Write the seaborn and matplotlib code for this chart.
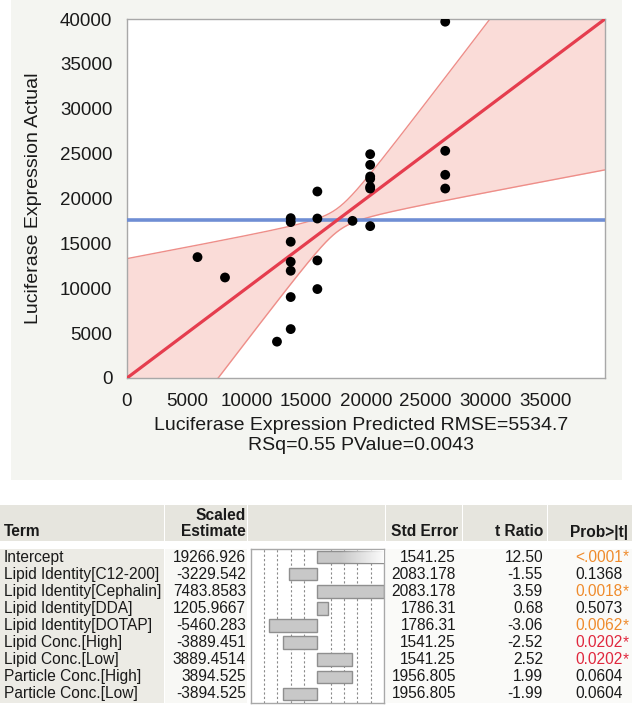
import numpy as np
import pandas as pd
import seaborn as sns
import matplotlib.pyplot as plt
from matplotlib.patches import Rectangle

# ---- Actual by Predicted leverage plot ----
predicted = [5900, 8200, 12550,
             13700, 13700, 13700, 13700, 13700, 13700, 13700,
             15930, 15930, 15930, 15930,
             18870,
             20350, 20350, 20350, 20350, 20350, 20350, 20350,
             26630, 26630, 26630, 26630]
actual = [13470, 11200, 4050,
          5450, 9020, 11950, 12950, 15180, 17370, 17810,
          9910, 13100, 17770, 20780,
          17510,
          16920, 21110, 21300, 22200, 22450, 23750, 24940,
          21110, 22640, 25310, 39700]

band_halfwidth_mid = 1290   # half width of the confidence curves at the mean
band_slope = 0.75           # asymptotic slope of the confidence curves

x_ticks = list(range(0, 40001, 5000))
x_ticklabels = [str(v) for v in range(0, 35001, 5000)] + [""]
y_ticks = list(range(0, 40001, 5000))

# ---- parameter estimates table ----
terms = ["Intercept", "Lipid Identity[C12-200]", "Lipid Identity[Cephalin]",
         "Lipid Identity[DDA]", "Lipid Identity[DOTAP]", "Lipid Conc.[High]",
         "Lipid Conc.[Low]", "Particle Conc.[High]", "Particle Conc.[Low]"]
scaled_est = [19266.926, -3229.542, 7483.8583, 1205.9667, -5460.283,
              -3889.451, 3889.4514, 3894.525, -3894.525]
est_labels = ["19266.926", "-3229.542", "7483.8583", "1205.9667", "-5460.283",
              "-3889.451", "3889.4514", "3894.525", "-3894.525"]
std_err = ["1541.25", "2083.178", "2083.178", "1786.31", "1786.31",
           "1541.25", "1541.25", "1956.805", "1956.805"]
t_ratio = ["12.50", "-1.55", "3.59", "0.68", "-3.06", "-2.52", "2.52", "1.99", "-1.99"]
p_labels = ["<.0001", "0.1368", "0.0018", "0.5073", "0.0062", "0.0202", "0.0202", "0.0604", "0.0604"]
p_values = [0.0001, 0.1368, 0.0018, 0.5073, 0.0062, 0.0202, 0.0202, 0.0604, 0.0604]

# ---- style ----
sns.set_style("white")
plt.rcParams['font.family'] = ['Liberation Sans', 'DejaVu Sans']

W, H = 632, 705
fig = plt.figure(figsize=(W / 100, H / 100), dpi=100)
fig.patch.set_facecolor('white')

# background layer in pixel units
bg = fig.add_axes([0, 0, 1, 1], zorder=0)
bg.set_xlim(0, W)
bg.set_ylim(H, 0)
bg.axis('off')
bg.add_patch(Rectangle((11, 0), 611, 480, color='#f4f5f1', lw=0))

# ---- main plot ----
ax = fig.add_axes([127 / W, 1 - 378 / H, 478 / W, 359 / H], zorder=2)
ax.set_facecolor('white')

df = pd.DataFrame({'pred': predicted, 'act': actual})
ybar = np.mean(actual)
line_x = np.linspace(0, 40000, 400)
half = np.sqrt(band_halfwidth_mid ** 2 + band_slope ** 2 * (line_x - ybar) ** 2)
upper = line_x + half
lower = line_x - half

ax.fill_between(line_x, lower, upper, color='#fadcd8', lw=0, zorder=1)
sns.lineplot(x=line_x, y=upper, color='#ee8e89', lw=1, ax=ax, zorder=2)
sns.lineplot(x=line_x, y=lower, color='#ee8e89', lw=1, ax=ax, zorder=2)
ax.axhline(ybar, color='#6f8ed4', lw=2.6, zorder=3)
sns.lineplot(x=line_x, y=line_x, color='#e53d4e', lw=2.3, ax=ax, zorder=4)
sns.scatterplot(data=df, x='pred', y='act', color='black', s=50,
                edgecolor='none', ax=ax, zorder=5)

ax.set_xlim(0, 40000)
ax.set_ylim(0, 40000)
ax.set_xticks(x_ticks)
ax.set_xticklabels(x_ticklabels)
ax.set_yticks(y_ticks)
for s in ax.spines.values():
    s.set_color('#a8a8a8')
    s.set_linewidth(1)
ax.tick_params(axis='both', direction='out', length=7, width=1, color='#a8a8a8',
               labelsize=13.5, labelcolor='#1a1a1a')
ax.tick_params(axis='x', pad=4)
ax.tick_params(axis='y', pad=3.5)
ax.set_xlabel("Luciferase Expression Predicted RMSE=5534.7\nRSq=0.55 PValue=0.0043",
              fontsize=14, color='#1a1a1a', linespacing=1.25)
ax.set_ylabel("Luciferase Expression Actual", fontsize=14, color='#1a1a1a')
ax.xaxis.set_label_coords(0.49, -0.108)
ax.yaxis.set_label_coords(-0.178, 0.5)

# ---- table ----
row_top, row_bot = 548.5, 702.5
row_h = (row_bot - row_top) / len(terms)
hdr_top, hdr_bot = 505, 541
hdr_fill = '#e6e5de'

for x0, x1 in [(0, 164), (165, 247), (248, 385), (386, 462), (463, 547), (548, W)]:
    bg.add_patch(Rectangle((x0, hdr_top), x1 - x0, hdr_bot - hdr_top, color=hdr_fill, lw=0))
bg.add_patch(Rectangle((0, row_top), 164, row_bot - row_top, color='#ecebe5', lw=0))
bg.add_patch(Rectangle((165, row_top), 82, row_bot - row_top, color='#f8f8f5', lw=0))
bg.add_patch(Rectangle((386, row_top), W - 386, row_bot - row_top, color='#fafaf8', lw=0))

tfs = 11.2
hdr_kw = dict(fontsize=tfs, fontweight='bold', color='#1a1a1a', va='center')
bg.text(4, 532, "Term", ha='left', **hdr_kw)
bg.text(246, 515, "Scaled", ha='right', **hdr_kw)
bg.text(246, 532, "Estimate", ha='right', **hdr_kw)
bg.text(458, 532, "Std Error", ha='right', **hdr_kw)
bg.text(543, 532, "t Ratio", ha='right', **hdr_kw)
bg.text(628, 532, "Prob>|t|", ha='right', **hdr_kw)

for i, term in enumerate(terms):
    yc = row_top + row_h * (i + 0.5)
    kw = dict(fontsize=tfs, color='#1a1a1a', va='center')
    bg.text(4, yc, term, ha='left', **kw)
    bg.text(246, yc, est_labels[i], ha='right', **kw)
    bg.text(456, yc, std_err[i], ha='right', **kw)
    bg.text(543, yc, t_ratio[i], ha='right', **kw)
    p = p_values[i]
    if p < 0.01:
        pc = '#ef8b2c'
    elif p < 0.05:
        pc = '#e0283e'
    else:
        pc = '#1a1a1a'
    bg.text(623, yc, p_labels[i], ha='right', fontsize=tfs, color=pc, va='center')
    if p < 0.05:
        bg.text(623, yc, "*", ha='left', fontsize=tfs, color=pc, va='center')

# scaled estimate bars
ax_bar = fig.add_axes([250.7 / W, 1 - row_bot / H, 133.3 / W, (row_bot - row_top) / H], zorder=2)
ax_bar.set_facecolor('white')
lim = max(abs(v) for v in scaled_est[1:])
for k in [-4, -3, -2, -1, 1, 2, 3, 4]:
    ax_bar.axvline(k * lim / 5, color='#8a8a8a', lw=0.8, ls=(0, (2, 2)), zorder=0)
sns.barplot(x=scaled_est, y=terms, orient='h', color='#c8c8c8', saturation=1,
            edgecolor='#8f8f8f', linewidth=1, width=0.74, ax=ax_bar, zorder=2)
# clipped intercept bar fades to white
grad = np.ones((1, 256, 4))
grad[..., 3] = np.clip((np.linspace(0, 1, 256) - 0.35) / 0.65, 0, 1) * 0.95
ax_bar.imshow(grad, extent=[0, lim, 0.37, -0.37], aspect='auto', zorder=3)
ax_bar.set_xlim(-lim, lim)
ax_bar.set_ylim(len(terms) - 0.5, -0.5)
ax_bar.set(xticks=[], yticks=[], xlabel='', ylabel='')
for s in ax_bar.spines.values():
    s.set_visible(True)
    s.set_color('#a8a8a8')
    s.set_linewidth(1)

fig.savefig('out.png', dpi=100, facecolor=fig.get_facecolor())
